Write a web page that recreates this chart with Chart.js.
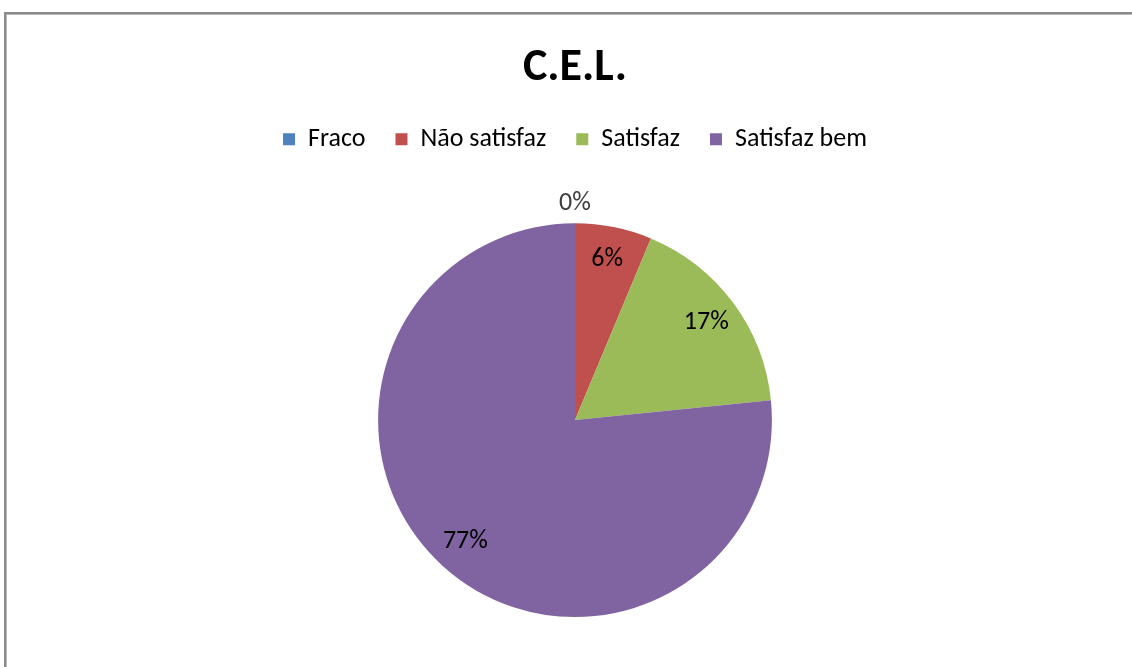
<!DOCTYPE html>
<html>
<head>
<meta charset="utf-8">
<script src="https://cdn.jsdelivr.net/npm/chart.js@4/dist/chart.umd.min.js"></script>
<style>
  html, body { margin: 0; padding: 0; background: #fff; }
  body { width: 1132px; height: 667px; position: relative; overflow: hidden; }
  #frame { position: absolute; left: 4px; top: 12px; width: 1140px; height: 670px;
           border-left: 2px solid #8a8a8a; border-top: 2px solid #8a8a8a;
           box-shadow: inset 1px 1px 0 #b5b5b5; }
  #wrap { position: absolute; left: 0; top: 0; width: 1132px; height: 667px; }
</style>
</head>
<body>
<div id="frame"></div>
<div id="wrap"><canvas id="c" width="1132" height="667"></canvas></div>
<script>
const chartTitle = "C.E.L.";
const categories = ["Fraco", "Não satisfaz", "Satisfaz", "Satisfaz bem"];
const values = [0, 6.3, 17.1, 76.6];
const colors = ["#4F81BD", "#C0504D", "#9BBB59", "#8064A2"];

const FONT = "Carlito, Lato, 'Open Sans', sans-serif";

const legendGap = {
  id: 'legendGap',
  beforeInit(chart) {
    const origFit = chart.legend.fit;
    chart.legend.fit = function () {
      origFit.bind(chart.legend)();
      this.height += 61;
    };
  }
};

const pieLabels = {
  id: 'pieLabels',
  afterDatasetsDraw(chart) {
    const ctx = chart.ctx;
    const meta = chart.getDatasetMeta(0);
    const ds = chart.data.datasets[0].data;
    const total = ds.reduce((a, b) => a + b, 0);
    ctx.save();
    ctx.font = "26px " + FONT;
    ctx.textAlign = "center";
    ctx.textBaseline = "middle";
    meta.data.forEach((arc, i) => {
      const p = arc.getProps(['x', 'y', 'startAngle', 'endAngle', 'outerRadius'], true);
      const mid = (p.startAngle + p.endAngle) / 2;
      const v = ds[i];
      const r = v > 0 ? p.outerRadius * 0.83 : p.outerRadius + 20;
      const x = p.x + Math.cos(mid) * r;
      const y = p.y + Math.sin(mid) * r;
      ctx.fillStyle = v > 0 ? "#000000" : "#404040";
      ctx.fillText(Math.round(v / total * 100) + "%", x, y);
    });
    ctx.restore();
  }
};

new Chart(document.getElementById('c'), {
  type: 'pie',
  data: {
    labels: categories,
    datasets: [{
      data: values,
      backgroundColor: colors,
      borderWidth: 0
    }]
  },
  options: {
    responsive: false,
    animation: false,
    layout: { padding: { top: 20, left: 18, right: 0, bottom: 50 } },
    plugins: {
      title: {
        display: true,
        text: chartTitle,
        color: "#000",
        font: { family: FONT, size: 46, weight: 'bold' },
        padding: { top: 21, bottom: 0 }
      },
      legend: {
        display: true,
        position: 'top',
        labels: {
          color: "#000",
          font: { family: FONT, size: 26 },
          boxWidth: 12,
          boxHeight: 12,
          padding: 30
        }
      },
      tooltip: { enabled: false }
    }
  },
  plugins: [legendGap, pieLabels]
});
</script>
</body>
</html>
